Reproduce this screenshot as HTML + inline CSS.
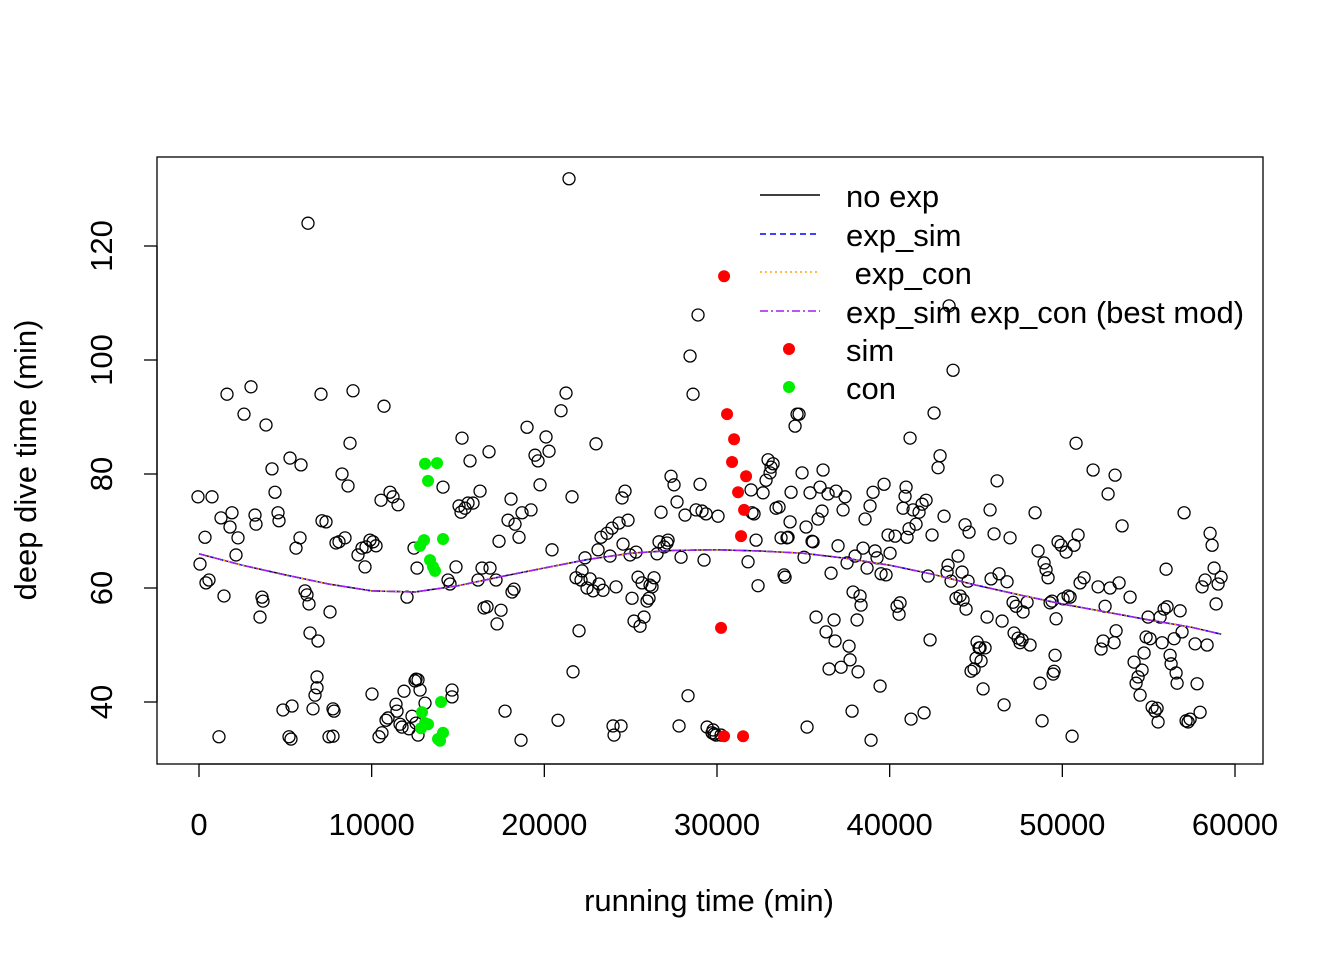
<!DOCTYPE html>
<html><head><meta charset="utf-8"><style>
body{margin:0;background:#fff;}
svg text{font-family:"Liberation Sans",Arial,sans-serif;fill:#000;}
</style></head><body>
<svg id="chart" width="1344" height="960" xmlns="http://www.w3.org/2000/svg">
<rect width="1344" height="960" fill="#fff"/>
<g id="pts"></g>
<g id="curves"></g>
<g id="axes"></g>
<rect x="157" y="157" width="1106" height="607" fill="none" stroke="#000" stroke-width="1.3"/>
<g id="legend"></g>
<text x="709" y="911" font-size="31" text-anchor="middle">running time (min)</text>
<text transform="translate(36,460) rotate(-90)" font-size="31" text-anchor="middle">deep dive time (min)</text>
</svg>
<script>
const xTicks=[0,10000,20000,30000,40000,50000,60000];
const yTicks=[40,60,80,100,120];
const allPts=[[-58,76.0],[58,64.2],[348,68.9],[405,60.9],[579,61.4],[753,76.0],[1158,33.9],[1274,72.3],[1448,58.6],[1622,94.0],[1911,73.2],[1796,70.7],[2143,65.8],[2259,68.8],[2606,90.5],[3012,95.3],[3244,72.8],[3301,71.2],[3649,58.4],[3707,57.7],[3533,54.9],[3881,88.6],[4228,80.9],[4402,76.8],[4576,73.2],[4634,71.8],[4865,38.6],[5271,82.8],[5213,33.9],[5329,33.5],[5387,39.3],[5618,67.0],[5908,81.6],[5850,68.8],[6140,59.5],[6255,58.8],[6371,57.2],[6429,52.1],[6603,38.8],[6719,41.2],[6835,44.4],[6835,42.5],[6892,50.7],[7066,94.0],[7124,71.8],[7356,71.6],[7530,33.9],[7588,55.8],[7761,38.8],[7819,38.4],[7761,34.0],[7935,67.9],[8109,68.1],[8283,80.0],[8456,68.8],[8630,77.9],[8746,85.4],[8920,94.6],[9209,65.8],[9441,67.0],[9615,63.7],[9673,67.2],[9904,68.4],[10078,68.1],[10252,67.4],[10020,41.4],[10426,33.9],[10599,34.6],[10715,91.9],[10541,75.4],[10831,36.8],[10947,37.2],[11063,76.8],[11236,76.0],[11410,39.6],[11468,38.4],[11526,74.6],[11642,36.1],[11758,35.6],[11874,41.9],[12047,58.4],[12163,35.3],[12337,37.5],[12453,67.0],[12627,63.5],[12569,44.0],[12511,43.7],[12685,43.9],[12801,42.1],[12685,34.2],[12569,36.3],[13090,39.8],[14132,77.7],[14422,61.4],[14538,60.7],[14654,40.9],[14654,42.1],[14885,63.7],[15059,74.4],[15175,73.3],[15233,86.3],[15407,74.0],[15580,74.9],[15696,82.3],[15870,74.9],[16160,61.4],[16276,77.0],[16391,63.5],[16507,56.5],[16681,56.7],[16797,83.9],[16855,63.5],[17202,61.4],[17260,53.7],[17376,68.2],[17492,56.1],[17724,38.4],[17897,71.9],[18071,75.6],[18129,59.3],[18245,59.8],[18303,71.2],[18534,68.9],[18650,33.3],[18708,73.2],[18998,88.2],[19229,73.7],[19461,83.3],[19635,82.3],[19751,78.1],[20098,86.5],[20272,84.0],[20446,66.7],[20793,36.8],[20967,91.1],[21257,94.2],[21604,76.0],[21662,45.3],[21836,61.8],[22010,52.5],[22126,61.4],[22184,63.0],[22357,65.3],[22473,60.0],[22647,61.6],[22821,59.5],[22994,85.3],[23110,66.7],[23168,60.7],[23284,68.9],[23400,59.6],[23632,69.6],[23805,65.6],[23921,70.5],[23979,35.8],[24037,34.2],[24153,60.2],[24326,71.4],[24442,35.8],[24500,75.8],[24558,67.7],[24674,77.0],[24848,71.9],[24964,65.8],[25080,58.2],[25195,54.2],[25311,66.3],[25427,61.9],[25543,53.3],[25659,60.9],[25774,54.9],[25948,57.7],[26064,58.2],[26122,60.5],[26238,60.2],[26354,61.8],[26527,66.0],[26643,68.1],[26759,73.3],[26933,67.2],[27107,67.9],[27165,68.4],[27338,79.6],[27512,78.1],[27686,75.1],[27802,35.8],[27918,65.4],[28149,72.8],[28323,41.1],[28439,100.7],[28613,94.0],[28786,73.7],[28902,107.9],[29018,78.2],[29134,73.5],[29250,64.9],[29366,73.0],[29424,35.6],[29713,34.6],[29771,35.1],[29829,34.4],[29945,34.2],[30061,72.6],[30235,34.2],[31799,64.6],[31972,77.2],[32030,73.2],[32146,73.0],[32262,68.4],[32378,60.4],[32668,76.7],[32841,78.9],[32957,82.5],[33073,80.2],[33131,81.2],[33247,81.8],[33420,74.0],[33594,74.2],[33710,68.8],[33884,62.3],[33942,61.9],[34057,68.8],[34115,68.9],[34231,71.6],[34289,76.8],[34521,88.4],[34637,90.5],[34752,90.5],[34926,80.2],[35042,65.4],[35158,70.7],[35216,35.6],[35389,76.7],[35505,68.2],[35563,68.1],[35737,54.9],[35853,72.1],[35968,77.7],[36084,73.5],[36142,80.7],[36316,52.3],[36432,76.5],[36490,45.8],[36606,62.6],[36779,54.4],[36837,50.7],[36895,77.0],[37011,67.4],[37185,46.1],[37301,73.7],[37416,76.0],[37532,64.4],[37648,49.8],[37706,47.4],[37822,38.4],[37880,59.3],[37996,65.6],[38111,54.4],[38169,45.3],[38285,58.6],[38343,57.0],[38459,67.0],[38575,72.1],[38691,63.5],[38864,74.4],[38922,33.3],[39038,76.8],[39154,66.5],[39270,65.3],[39444,42.8],[39501,62.5],[39675,78.2],[39791,62.3],[39907,69.3],[40023,66.1],[40313,69.1],[40428,56.8],[40544,55.4],[40602,57.4],[40776,74.0],[40892,76.1],[40950,77.7],[41007,68.9],[41123,70.4],[41181,86.3],[41239,37.0],[41355,73.7],[41529,71.2],[41702,73.3],[41876,74.7],[41992,38.1],[42108,75.4],[42224,62.1],[42340,50.9],[42455,69.3],[42571,90.7],[42803,81.1],[42919,83.2],[43150,72.6],[43324,62.8],[43382,64.0],[43440,109.5],[43556,61.2],[43672,98.2],[43845,58.2],[43961,65.6],[44077,58.6],[44193,62.8],[44251,57.9],[44367,71.1],[44425,56.3],[44540,61.2],[44598,69.8],[44714,45.4],[44888,45.8],[45004,47.7],[45062,50.5],[45178,49.5],[45236,49.5],[45294,47.2],[45410,42.3],[45525,49.5],[45641,54.9],[45815,73.7],[45873,61.6],[46046,69.5],[46220,78.8],[46336,62.5],[46510,54.2],[46626,39.5],[46799,61.1],[46973,68.8],[47147,57.5],[47205,52.1],[47321,56.8],[47436,51.2],[47552,50.4],[47668,50.9],[47726,55.8],[47958,57.5],[48131,50.0],[48421,73.2],[48595,66.5],[48711,43.3],[48827,36.7],[48942,64.4],[49058,63.2],[49174,61.8],[49290,57.4],[49406,57.7],[49464,44.9],[49522,45.4],[49580,48.2],[49638,54.6],[49753,68.1],[49927,67.5],[50043,58.1],[50217,66.3],[50333,58.6],[50449,58.4],[50565,34.0],[50681,67.5],[50796,85.4],[50912,69.3],[51028,60.9],[51260,61.8],[51781,80.7],[52070,60.2],[52244,49.3],[52360,50.7],[52476,56.8],[52650,76.5],[52766,60.0],[52997,50.4],[53113,52.5],[53287,60.9],[53461,70.9],[53924,58.4],[54156,47.0],[54272,43.3],[54388,44.4],[54503,41.2],[54619,45.6],[54735,48.6],[54851,51.4],[54967,54.9],[55083,51.1],[55199,39.1],[55372,38.4],[55488,38.9],[55546,36.5],[55662,54.9],[55778,50.4],[55894,56.3],[56009,63.3],[56067,56.7],[56241,48.2],[56299,46.7],[56473,51.1],[56589,45.1],[56647,43.3],[56821,56.0],[56935,52.3],[57051,73.2],[57167,36.7],[57283,36.5],[57399,37.0],[57689,50.2],[57804,43.2],[57978,38.2],[58094,60.2],[58268,61.4],[58384,50.0],[58558,69.6],[58674,67.5],[58789,63.5],[58905,57.2],[59021,60.7],[59195,61.9],[6313,124.0],[21430,131.8],[53055,79.8]];
const simPts=[[30409,114.7],[30582,90.5],[30988,86.1],[30872,82.1],[31683,79.6],[31220,76.8],[31567,73.7],[31393,69.1],[30235,53.0],[30409,34.0],[31509,34.0]];
const conPts=[[13090,81.8],[13785,81.9],[13264,78.8],[12801,67.4],[13032,68.4],[14132,68.6],[13380,64.9],[13669,63.0],[13554,63.7],[14017,40.0],[12916,38.2],[13090,36.3],[12859,35.4],[13264,36.1],[14132,34.6],[13959,33.2],[13843,33.5]];
const curveX=[0,2500,5000,7500,10000,12500,15000,17500,20000,22500,25000,27500,30000,32500,35000,37500,40000,42500,45000,47500,50000,52500,55000,57500,59200];
const curveY=[66.0,64.0,62.3,60.7,59.5,59.3,60.4,62.0,63.5,65.0,66.1,66.6,66.7,66.5,66.1,65.2,64.0,62.4,60.5,58.8,57.2,55.8,54.4,53.1,51.9];

const NS="http://www.w3.org/2000/svg";
const sx=v=>199+v*(1036/60000);
const sy=v=>588-(v-60)*5.7;
function mk(tag,attrs,parent){const e=document.createElementNS(NS,tag);for(const k in attrs)e.setAttribute(k,attrs[k]);parent.appendChild(e);return e;}
const pts=document.getElementById('pts');
allPts.forEach(p=>{const c=mk('circle',{cx:sx(p[0]),cy:sy(p[1]),r:6,fill:'none',stroke:'#000','stroke-width':1.3},pts);

});
simPts.forEach(p=>{const c=mk('circle',{cx:sx(p[0]),cy:sy(p[1]),r:6,fill:'#ff0000'},pts);

});
conPts.forEach(p=>{const c=mk('circle',{cx:sx(p[0]),cy:sy(p[1]),r:6,fill:'#00ee00'},pts);

});
const cg=document.getElementById('curves');
const d=curveX.map((x,i)=>(i?'L':'M')+sx(x).toFixed(1)+','+sy(curveY[i]).toFixed(1)).join(' ');
const styles=[['#000','none','no-exp-line'],['#0000ff','6,4','exp-sim-line'],['#ffa500','2,3','exp-con-line'],['#a020f0','8,3,2,3','best-mod-line']];
styles.forEach(s=>{const l=mk('path',{d:d,fill:'none',stroke:s[0],'stroke-width':1.5,'stroke-dasharray':s[1]},cg);

});
const ax=document.getElementById('axes');
mk('line',{x1:sx(0),x2:sx(60000),y1:764,y2:764,stroke:'#000','stroke-width':1.3},ax);
xTicks.forEach(t=>{mk('line',{x1:sx(t),x2:sx(t),y1:764,y2:777,stroke:'#000','stroke-width':1.3},ax);
const tx=mk('text',{x:sx(t),y:835,'font-size':31,'text-anchor':'middle'},ax);tx.textContent=t;

});
mk('line',{x1:157,x2:157,y1:sy(120),y2:sy(40),stroke:'#000','stroke-width':1.3},ax);
yTicks.forEach(t=>{mk('line',{x1:144,x2:157,y1:sy(t),y2:sy(t),stroke:'#000','stroke-width':1.3},ax);
const tx=mk('text',{transform:`translate(112,${sy(t)}) rotate(-90)`,'font-size':31,'text-anchor':'middle'},ax);tx.textContent=t;

});
const lg=document.getElementById('legend');
const labels=['no exp','exp_sim','\u00a0exp_con','exp_sim exp_con (best mod)','sim','con'];
const ly=[197,236,274,313,351,389];
labels.forEach((t,i)=>{const tx=mk('text',{x:846,y:ly[i]+10,'font-size':31},lg);tx.textContent=t;


if(i<4){const s=styles[i];mk('line',{x1:760,x2:820,y1:ly[i]-2,y2:ly[i]-2,stroke:s[0],'stroke-width':1.5,'stroke-dasharray':s[1]},lg);}
else mk('circle',{cx:789,cy:ly[i]-2,r:6,fill:i==4?'#ff0000':'#00ee00'},lg);});
</script>
</body></html>
